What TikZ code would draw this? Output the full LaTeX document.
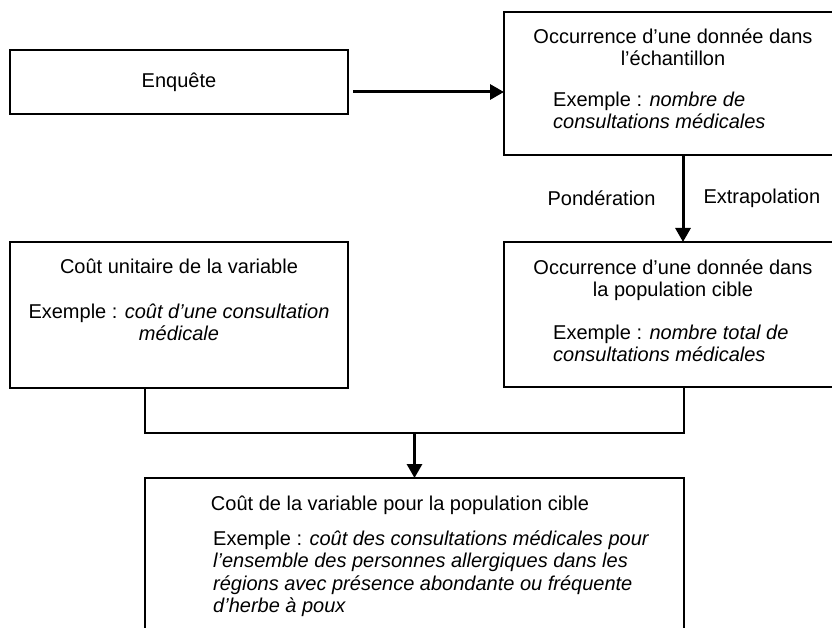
\documentclass[tikz,border=0pt]{standalone}
\usepackage{fontspec}
\setmainfont{Liberation Sans}
\usetikzlibrary{arrows.meta}

\begin{document}
\begin{tikzpicture}[x=1pt,y=-1pt,
    box/.style={draw,line width=1.5pt,inner sep=0pt,outer sep=0pt},
    txt/.style={inner sep=0pt,font=\fontsize{20}{22.5}\selectfont},
    thick arrow/.style={line width=3pt,-{Triangle[length=14pt,width=15pt]}},
    link/.style={line width=1.5pt}]
    \useasboundingbox (0,0) rectangle (832,628);
    \clip (0,0) rectangle (832,628);

    % boxes
    \node[box,txt,minimum width=338pt,minimum height=64pt] (enquete) at (179,82) {Enquête};
    \node[box,minimum width=338pt,minimum height=143pt] (occ) at (673,83.5) {};
    \node[box,minimum width=338pt,minimum height=145pt] (pop) at (673,314.5) {};
    \node[box,minimum width=338pt,minimum height=146pt] (cout) at (179,315) {};
    \node[box,minimum width=539pt,minimum height=222pt] (total) at (414.5,589) {};

    % texts
    \node[txt,anchor=north,align=center] (occtitle) at (673,28.5) {Occurrence d’une donnée dans\\l’échantillon};
    \node[txt,anchor=north west,align=left] (occex) at (553,91.5) {Exemple : \textit{nombre de}\\\textit{consultations médicales}};
    \node[txt,anchor=north,align=center] (poptitle) at (673,259.5) {Occurrence d’une donnée dans\\la population cible};
    \node[txt,anchor=north west,align=left] (popex) at (553,324.5) {Exemple : \textit{nombre total de}\\\textit{consultations médicales}};
    \node[txt,anchor=north] (couttitle) at (179,258.5) {Coût unitaire de la variable};
    \node[txt,anchor=north,align=center] (coutex) at (179,303.5) {Exemple : \textit{coût d’une consultation}\\\textit{médicale}};
    \node[txt,anchor=north] (totaltitle) at (400,495.5) {Coût de la variable pour la population cible};
    \node[txt,anchor=north west,align=left] (totalex) at (213,530.5) {Exemple : \textit{coût des consultations médicales pour}\\\textit{l’ensemble des personnes allergiques dans les}\\\textit{régions avec présence abondante ou fréquente}\\\textit{d’herbe à poux}};

    % arrows
    \coordinate (start) at ([shift={(5,10)}]enquete.east);
    \draw[thick arrow] (start) -- (start -| occ.west);
    \draw[thick arrow] ([xshift=10pt]occ.south) -- ([xshift=10pt]pop.north)
        node[txt,midway,anchor=east,xshift=-26pt] (pond) {Pondération}
        node[txt,midway,anchor=west,xshift=19pt] (extra) {Extrapolation};
    \coordinate (join) at (414.5,433);
    \draw[link] (cout.south -| total.west) -- (join -| total.west) -- (join -| total.east) -- (pop.south -| total.east);
    \draw[thick arrow] (join) -- (total.north);
\end{tikzpicture}
\end{document}
